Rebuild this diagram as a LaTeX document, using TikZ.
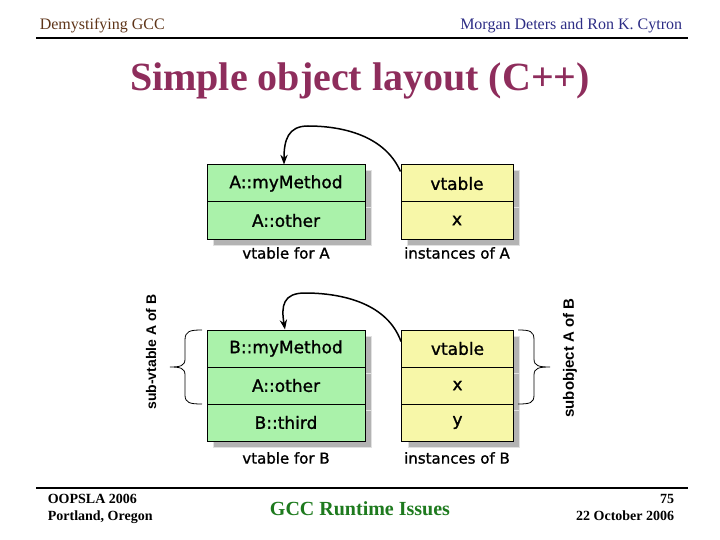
\documentclass[tikz,border=0pt]{standalone}
\usepackage{fontspec}
\setmainfont{Liberation Serif}
\setsansfont{Liberation Sans}
\newfontfamily\boxfont[FakeBold=1.2]{DejaVu Sans}
\usetikzlibrary{arrows.meta}
\definecolor{vgreen}{HTML}{AAF2AA}
\definecolor{iyellow}{HTML}{F7F7A8}
\definecolor{shade}{HTML}{B3B3B3}
\definecolor{titlered}{HTML}{8E2D5C}
\definecolor{headbrown}{HTML}{5E3418}
\definecolor{headblue}{HTML}{2D2D85}
\definecolor{footgreen}{HTML}{1E7A1E}

\begin{document}
\begin{tikzpicture}[x=1pt,y=-1pt,>=Stealth,line width=1pt,
  cell/.style={draw=black,inner sep=0pt,minimum height=37pt,font=\boxfont\fontsize{17}{17}\selectfont},
  vcell/.style={cell,fill=vgreen,minimum width=158pt},
  icell/.style={cell,fill=iyellow,minimum width=112pt},
  boxcaption/.style={font=\boxfont\fontsize{15}{15}\selectfont},
  sidelabel/.style={font=\sffamily\bfseries\fontsize{14}{14}\selectfont,rotate=90},
  foot/.style={font=\bfseries\fontsize{14}{14}\selectfont},
  link/.style={->,line width=1.5pt}]
\useasboundingbox (0,0) rectangle (720,540);
% header and title
\node[anchor=base west,text=headbrown,font=\fontsize{16}{16}\selectfont] (head) at (36,30) {Demystifying GCC};
\node[anchor=base east,text=headblue,font=\fontsize{16}{16}\selectfont] (authors) at (686,30) {Morgan Deters and Ron K. Cytron};
\draw[line width=1.2pt] (36,38)--(688,38);
\node[anchor=base,text=titlered,font=\bfseries\fontsize{40}{40}\selectfont] (title) at (360,91) {Simple object layout (C++)};
% shadows
\foreach \k in {0,1} {
  \filldraw[fill=shade,draw=shade!40] (213,171+37*\k) rectangle (371,208+37*\k);
  \filldraw[fill=shade,draw=shade!40] (407,171+37*\k) rectangle (519,208+37*\k);
}
\foreach \k in {0,1,2} {
  \filldraw[fill=shade,draw=shade!40] (213,336+37*\k) rectangle (371,373+37*\k);
  \filldraw[fill=shade,draw=shade!40] (408,336+37*\k) rectangle (519,373+37*\k);
}
% class A
\node[vcell] (amethod) at (286,183.5) {A::myMethod};
\node[vcell] (aother) at (286,220.5) {A::other};
\node[icell] (avptr) at (457,183.5) {vtable};
\node[icell] (ax) at (457,220.5) {x};
\node[boxcaption] (avtab) at (286,253) {vtable for A};
\node[boxcaption] (ainst) at (457,253) {instances of A};
\draw[link] ([yshift=-7pt]avptr.north west) .. controls (383,132) and (335,126) .. (308,126)
  .. controls (288,126) and (284,140) .. (amethod.north -| 284,0);
% class B
\node[vcell] (bmethod) at (286,348.5) {B::myMethod};
\node[vcell] (bother) at (286,385.5) {A::other};
\node[vcell] (bthird) at (286,422.5) {B::third};
\node[icell] (bvptr) at (457.5,348.5) {vtable};
\node[icell] (bx) at (457.5,385.5) {x};
\node[icell] (by) at (457.5,422.5) {y};
\node[boxcaption] (bvtab) at (286,458) {vtable for B};
\node[boxcaption] (binst) at (457,458) {instances of B};
\draw[link] ([yshift=-12pt]bvptr.north west) .. controls (386,300) and (335,293) .. (305,293)
  .. controls (283,293) and (281,306) .. (bmethod.north -| 285,0);
% braces and side labels
\draw[line width=.8pt] (202,330) .. controls (190,330) and (185,331) .. (185,340) -- (185,359)
  .. controls (185,366) and (180,367) .. (170,367) .. controls (180,367) and (185,368) .. (185,375)
  -- (185,395) .. controls (185,403) and (190,404) .. (202,404);
\draw[line width=.8pt] (518,330) .. controls (530,330) and (534,331) .. (534,340) -- (534,359)
  .. controls (534,366) and (539,367) .. (550,367) .. controls (539,367) and (534,368) .. (534,375)
  -- (534,395) .. controls (534,403) and (530,404) .. (518,404);
\node[sidelabel] (subvtab) at (151,352) {sub-vtable A of B};
\node[sidelabel,font=\sffamily\bfseries\fontsize{15}{15}\selectfont] (subobj) at (570,358) {subobject A of B};
% footer
\draw[line width=1.2pt] (36,488)--(688,488);
\node[foot,anchor=base west] (conf) at (44,503) {OOPSLA 2006};
\node[foot,anchor=base west] (place) at (44,520) {Portland, Oregon};
\node[anchor=base,text=footgreen,font=\bfseries\fontsize{20}{20}\selectfont] (talk) at (360,515) {GCC Runtime Issues};
\node[foot,anchor=base east] (page) at (678,503) {75};
\node[foot,anchor=base east] (date) at (678,520) {22 October 2006};
\end{tikzpicture}
\end{document}
